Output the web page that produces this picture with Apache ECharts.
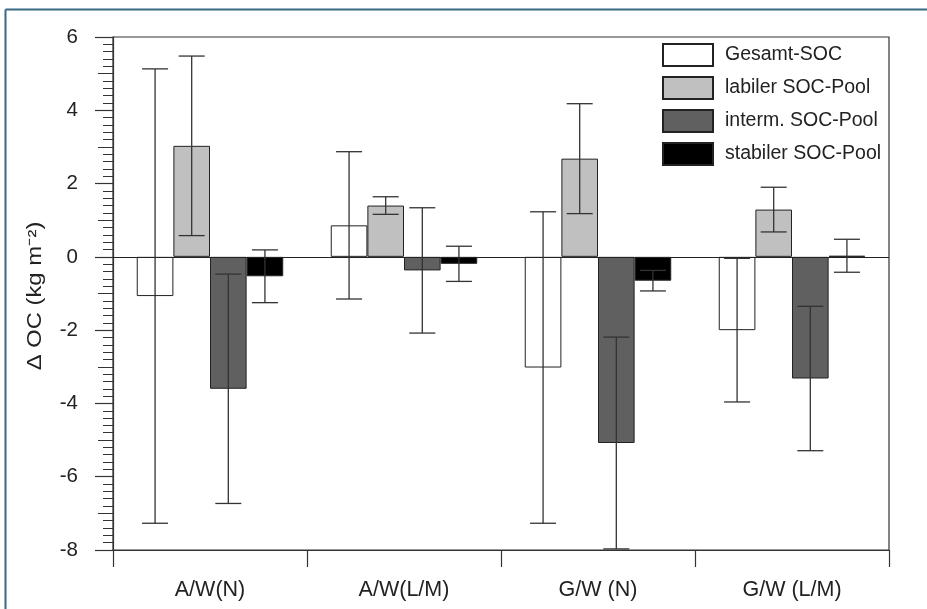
<!DOCTYPE html>
<html>
<head>
<meta charset="utf-8">
<style>html,body{margin:0;padding:0;background:#fff;}#c{width:927px;height:609px;}</style>
<script src="https://cdn.jsdelivr.net/npm/echarts@6/dist/echarts.min.js"></script>
</head>
<body>
<div id="c"></div>
<script>
const categories = ['A/W(N)', 'A/W(L/M)', 'G/W (N)', 'G/W (L/M)'];
const seriesNames = ['Gesamt-SOC', 'labiler SOC-Pool', 'interm. SOC-Pool', 'stabiler SOC-Pool'];
const yAxisTitle = 'Δ OC (kg m⁻²)';
const gesamt = [-1.07, 0.86, -3.02, -2.0];
const gesamtErr = [6.2, 2.01, 4.25, 1.96];
const labiler = [3.03, 1.40, 2.68, 1.29];
const labilerErr = [2.45, 0.24, 1.5, 0.61];
const interm = [-3.6, -0.37, -5.08, -3.32];
const intermErr = [3.13, 1.71, 2.89, 1.97];
const stabiler = [-0.53, -0.19, -0.65, 0.03];
const stabilerErr = [0.72, 0.48, 0.28, 0.45];
const yTicks = [-8, -6, -4, -2, 0, 2, 4, 6];

const values = [gesamt, labiler, interm, stabiler];
const errs = [gesamtErr, labilerErr, intermErr, stabilerErr];
const colors = ['#ffffff', '#c0c0c0', '#606060', '#000000'];
const GAP = 0.245;
const FONT = '"Liberation Sans", Arial, sans-serif';

const errData = [];
values.forEach((vals, s) => {
  vals.forEach((v, c) => {
    errData.push([c, s, v - errs[s][c], v + errs[s][c]]);
  });
});

const chart = echarts.init(document.getElementById('c'), null, {renderer: 'canvas'});
const yMin = yTicks[0], yMax = yTicks[yTicks.length - 1];

const barSeries = seriesNames.map((name, s) => ({
  name: name,
  type: 'bar',
  data: values[s],
  barGap: '0%',
  barCategoryGap: (GAP * 100) + '%',
  itemStyle: {color: colors[s], borderColor: '#222', borderWidth: 1},
  emphasis: {disabled: true},
  z: 2,
  markLine: s === 0 ? {
    silent: true, symbol: 'none', label: {show: false},
    lineStyle: {color: '#222', width: 1, type: 'solid'},
    data: [{yAxis: 0}]
  } : undefined
}));

const errorSeries = {
  type: 'custom',
  data: errData,
  encode: {x: 0, y: [2, 3]},
  z: 5,
  silent: true,
  renderItem: function (params, api) {
    const c = api.value(0), s = api.value(1), lo = api.value(2), hi = api.value(3);
    const pLo = api.coord([c, lo]);
    const pHi = api.coord([c, hi]);
    const band = api.size([1, 0])[0];
    const used = band * (1 - GAP);
    const bw = used / 4;
    const x = pLo[0] - used / 2 + bw * (s + 0.5);
    const cap = 13;
    const st = {stroke: '#333', lineWidth: 1.3};
    return {
      type: 'group',
      children: [
        {type: 'line', shape: {x1: x, y1: pLo[1], x2: x, y2: pHi[1]}, style: st},
        {type: 'line', shape: {x1: x - cap, y1: pLo[1], x2: x + cap, y2: pLo[1]}, style: st},
        {type: 'line', shape: {x1: x - cap, y1: pHi[1], x2: x + cap, y2: pHi[1]}, style: st}
      ]
    };
  }
};

const option = {
  animation: false,
  backgroundColor: '#ffffff',
  textStyle: {fontFamily: FONT},
  grid: {left: 113, right: 38, top: 37, bottom: 59, show: true, borderColor: '#333', borderWidth: 1.2, containLabel: false},
  legend: {
    data: seriesNames,
    orient: 'vertical',
    left: 657, top: 38,
    itemWidth: 50, itemHeight: 22, itemGap: 9,
    icon: 'rect',
    textStyle: {fontSize: 19.5, color: '#222', fontFamily: FONT, padding: [0, 0, 0, 7]},
    selectedMode: false
  },
  xAxis: {
    type: 'category',
    data: categories,
    boundaryGap: true,
    axisLine: {onZero: false, lineStyle: {color: '#333', width: 1.2}},
    axisTick: {show: true, length: 17, alignWithLabel: false, lineStyle: {color: '#333', width: 1.2}},
    axisLabel: {fontSize: 21.5, color: '#222', margin: 29, fontFamily: FONT},
    splitLine: {show: false}
  },
  yAxis: [
    {
      type: 'value',
      min: yMin, max: yMax, interval: 2,
      axisLine: {show: true, onZero: false, lineStyle: {color: '#333', width: 1.2}},
      axisTick: {show: true, length: 18, lineStyle: {color: '#333', width: 1.2}},
      minorTick: {show: true, splitNumber: 10, length: 10, lineStyle: {color: '#333', width: 1}},
      axisLabel: {fontSize: 20.5, color: '#222', margin: 35, fontFamily: FONT},
      splitLine: {show: false},
      minorSplitLine: {show: false}
    },
    {
      type: 'value',
      min: yMin, max: yMax, interval: 1,
      position: 'left',
      axisLine: {show: false},
      axisTick: {show: true, length: 15, lineStyle: {color: '#333', width: 1}},
      axisLabel: {show: false},
      splitLine: {show: false}
    }
  ],
  graphic: [
    {type: 'line', shape: {x1: 5.5, y1: 9.5, x2: 927, y2: 9.5}, style: {stroke: '#386882', lineWidth: 2}, z: 100},
    {type: 'line', shape: {x1: 5.5, y1: 9.5, x2: 5.5, y2: 609}, style: {stroke: '#386882', lineWidth: 2}, z: 100},
    {type: 'text', x: 36, y: 296, rotation: Math.PI / 2, scaleX: 1.22, scaleY: 1,
     style: {text: yAxisTitle, fontSize: 19.5, fontFamily: FONT, fill: '#222', align: 'center', verticalAlign: 'middle'}, z: 100}
  ],
  series: barSeries.concat([errorSeries])
};
chart.setOption(option);
</script>
</body>
</html>
